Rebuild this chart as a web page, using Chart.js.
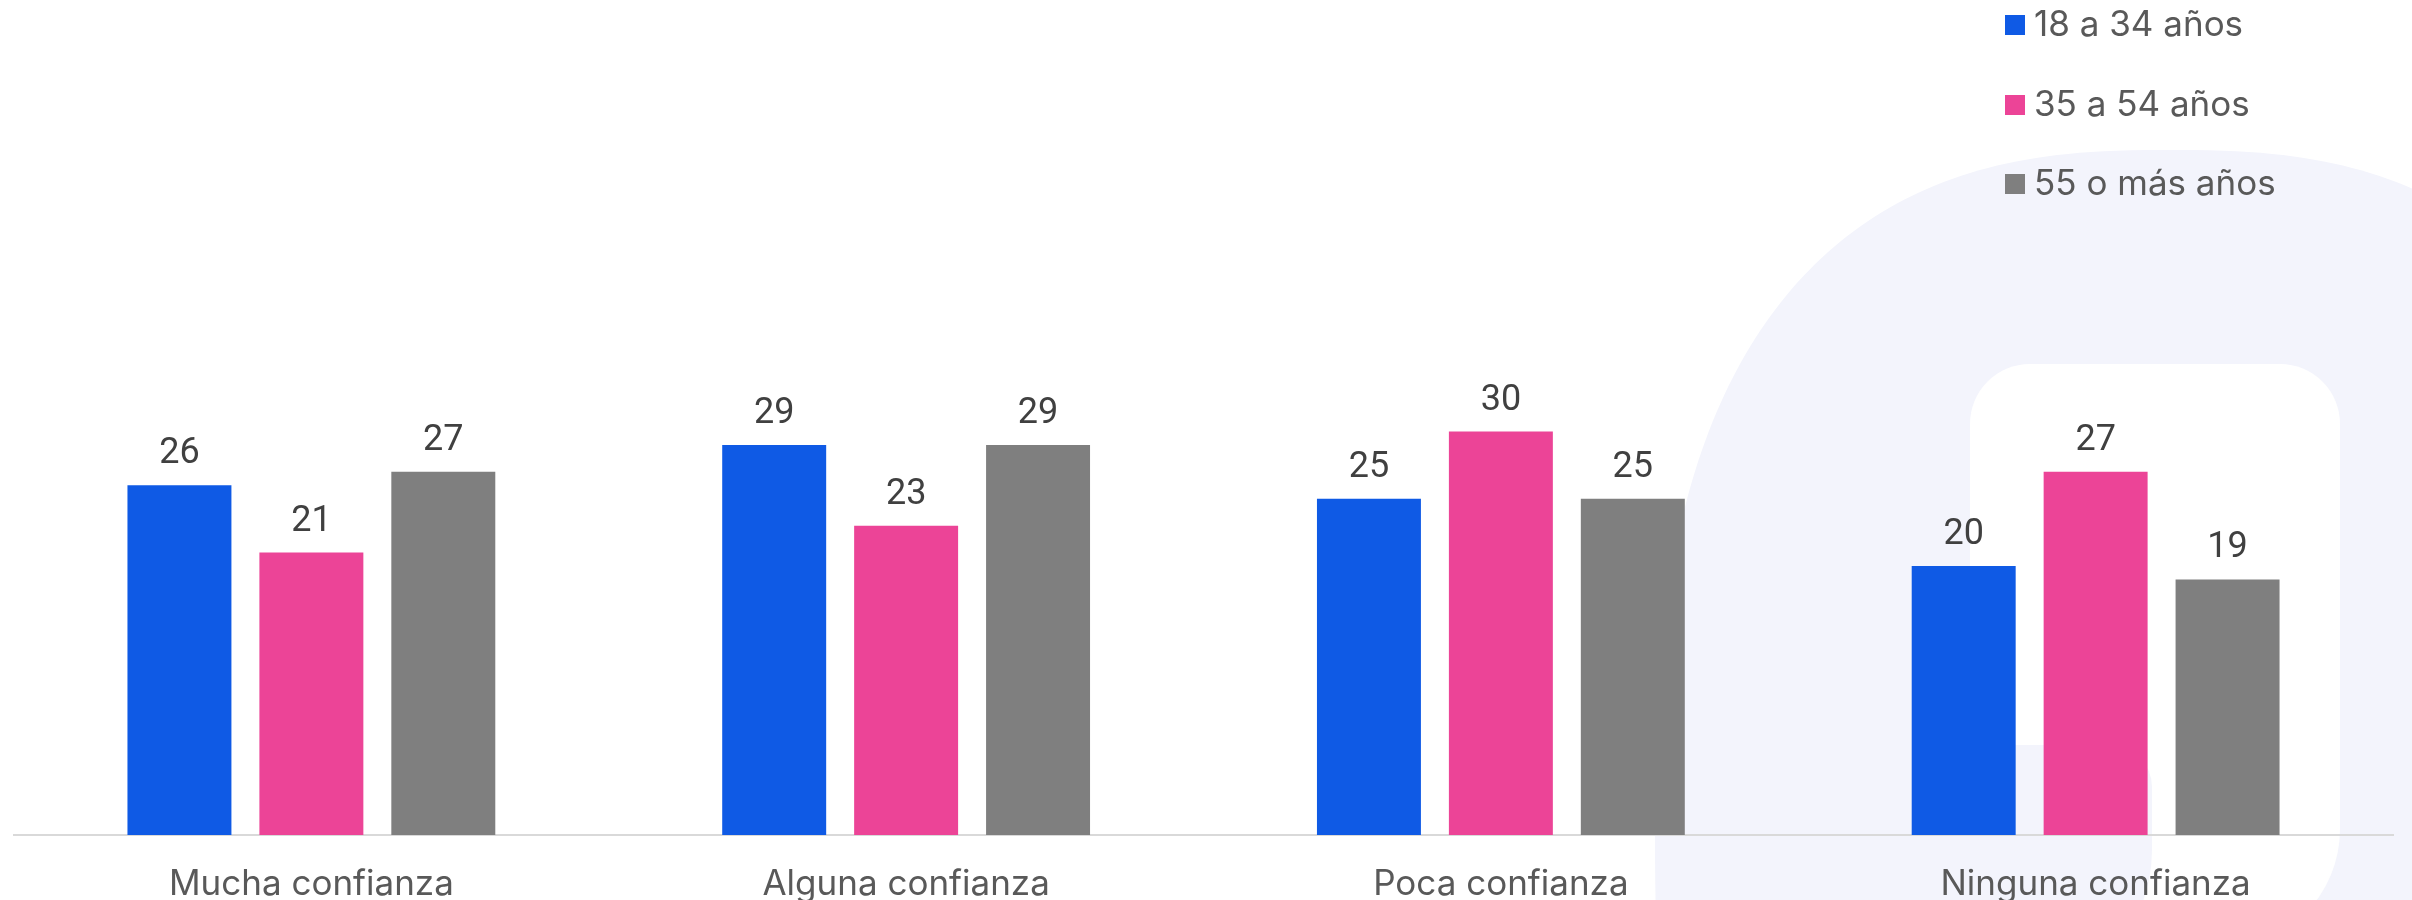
<!DOCTYPE html>
<html lang="es">
<head>
<meta charset="utf-8">
<title>Confianza por edad</title>
<script src="https://cdn.jsdelivr.net/npm/chart.js@4.4.1/dist/chart.umd.min.js"></script>
<style>
  html, body { margin: 0; padding: 0; background: #ffffff; }
  #wrap { position: relative; width: 2412px; height: 900px; }
</style>
</head>
<body>
<div id="wrap">
  <canvas id="chart" width="2412" height="900"></canvas>
</div>
<script>
// Categories and series
const categories = ['Mucha confianza', 'Alguna confianza', 'Poca confianza', 'Ninguna confianza'];
const seriesNames = ['18 a 34 años', '35 a 54 años', '55 o más años'];
const young = [26, 29, 25, 20];
const middle = [21, 23, 30, 27];
const older = [27, 29, 25, 19];
const seriesColors = ['#0f5ae5', '#ec4497', '#7f7f7f'];

const TEXT_FONT = 'Inter, Roboto, sans-serif';
const NUM_FONT = 'Roboto, Inter, sans-serif';

// Faint logo shape behind the bars
const backdrop = {
  id: 'backdrop',
  beforeDraw(chart) {
    const ctx = chart.ctx;
    ctx.save();
    ctx.fillStyle = '#f3f4fc';
    // rounded blob (superellipse)
    const cx = 2170, cy = 830, a = 515, b = 680, n = 2.6;
    ctx.beginPath();
    for (let i = 0; i <= 360; i++) {
      const t = i * Math.PI / 180;
      const c = Math.cos(t), s = Math.sin(t);
      const x = cx + a * Math.sign(c) * Math.pow(Math.abs(c), 2 / n);
      const y = cy + b * Math.sign(s) * Math.pow(Math.abs(s), 2 / n);
      if (i === 0) ctx.moveTo(x, y); else ctx.lineTo(x, y);
    }
    ctx.closePath();
    ctx.fill();

    // white tile inside
    ctx.fillStyle = '#ffffff';
    ctx.beginPath();
    ctx.roundRect(1970, 364, 370, 585, [60, 60, 120, 60]);
    ctx.fill();

    // notch at the lower left of the tile
    ctx.fillStyle = '#f3f4fc';
    ctx.beginPath();
    ctx.roundRect(1960, 745, 192, 255, [0, 42, 150, 0]);
    ctx.fill();
    ctx.restore();
  }
};

// Value above each bar + legend in the top right corner
const labelsAndLegend = {
  id: 'labelsAndLegend',
  afterDatasetsDraw(chart) {
    const ctx = chart.ctx;
    ctx.save();
    ctx.font = '36px ' + NUM_FONT;
    ctx.fillStyle = '#404040';
    ctx.textAlign = 'center';
    ctx.textBaseline = 'alphabetic';
    chart.data.datasets.forEach((ds, di) => {
      chart.getDatasetMeta(di).data.forEach((bar, i) => {
        ctx.fillText(String(ds.data[i]), bar.x, bar.y - 22);
      });
    });

    ctx.textAlign = 'left';
    ctx.font = '35px ' + TEXT_FONT;
    const legendTops = [15, 95, 174];
    chart.data.datasets.forEach((ds, di) => {
      const top = legendTops[di];
      ctx.fillStyle = ds.backgroundColor;
      ctx.fillRect(2005, top, 20, 20);
      ctx.fillStyle = '#595959';
      ctx.fillText(ds.label, 2034, top + 21);
    });
    ctx.restore();
  }
};

const datasets = [young, middle, older].map((values, i) => ({
  label: seriesNames[i],
  data: values,
  backgroundColor: seriesColors[i],
  borderWidth: 0,
  categoryPercentage: 0.6655,
  barPercentage: 0.788
}));

new Chart(document.getElementById('chart'), {
  type: 'bar',
  data: { labels: categories, datasets: datasets },
  options: {
    responsive: false,
    animation: false,
    layout: { padding: { left: 14, right: 19, top: 28, bottom: 0 } },
    plugins: {
      legend: { display: false },
      tooltip: { enabled: false }
    },
    scales: {
      x: {
        grid: { display: false, drawTicks: false },
        border: { display: true, color: '#d9d9d9', width: 2 },
        ticks: {
          color: '#595959',
          font: { family: TEXT_FONT, size: 35 },
          padding: 28,
          maxRotation: 0
        },
        afterFit(scale) { scale.height = 65; }
      },
      y: {
        display: false,
        min: 0,
        max: 60
      }
    }
  },
  plugins: [backdrop, labelsAndLegend]
});
</script>
</body>
</html>
